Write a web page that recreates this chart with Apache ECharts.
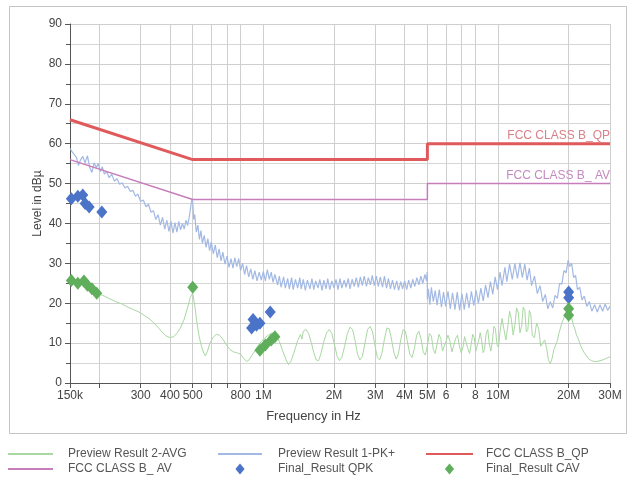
<!DOCTYPE html>
<html>
<head>
<meta charset="utf-8">
<title>EMI scan</title>
<script src="https://cdn.jsdelivr.net/npm/echarts/dist/echarts.min.js"></script>
<style>
  html, body { margin: 0; padding: 0; background: #fff; }
  #main { width: 627px; height: 484px; }
</style>
</head>
<body>
<div id="main"></div>
<script>
// frequencies in MHz, levels in dBuV
var tickFreqs = [0.15, 0.2, 0.3, 0.4, 0.5, 0.6, 0.7, 0.8, 1, 2, 3, 4, 5, 6, 7, 8, 10, 20, 30];
var labelFreqs = [0.15, 0.3, 0.4, 0.5, 0.8, 1, 2, 3, 4, 5, 6, 8, 10, 20, 30];
var labelTexts = ['150k', '300', '400', '500', '800', '1M', '2M', '3M', '4M', '5M', '6', '8', '10M', '20M', '30M'];

var qpLimit = [[0.15, 66], [0.5, 56], [5, 56], [5, 60], [30, 60]];
var avLimit = [[0.15, 56], [0.5, 46], [5, 46], [5, 50], [30, 50]];

var pkTrace = [
  [0.150, 58.8], [0.153, 58.0], [0.156, 58.5], [0.160, 56.5], [0.163, 54.5], [0.166, 55.8], [0.170, 56.8], [0.174, 55.2],
  [0.178, 57.0], [0.182, 54.0], [0.186, 52.8], [0.190, 55.2], [0.194, 54.0], [0.198, 55.0], [0.202, 53.0], [0.206, 54.2],
  [0.210, 52.4], [0.215, 53.0], [0.220, 51.5], [0.226, 52.3], [0.232, 50.6], [0.238, 51.2], [0.244, 49.8], [0.250, 50.2],
  [0.257, 48.9], [0.264, 49.3], [0.271, 48.0], [0.278, 48.3], [0.285, 46.8], [0.292, 47.4], [0.300, 45.5], [0.308, 45.9],
  [0.316, 44.2], [0.324, 44.8], [0.332, 42.8], [0.340, 43.2], [0.348, 41.0], [0.356, 42.2], [0.364, 39.6], [0.372, 41.5],
  [0.380, 38.6], [0.388, 40.8], [0.396, 38.0], [0.404, 40.6], [0.412, 37.6], [0.420, 40.2], [0.428, 37.8], [0.436, 40.5],
  [0.444, 38.4], [0.452, 40.0], [0.460, 38.6], [0.468, 40.8], [0.476, 39.5], [0.484, 41.8], [0.490, 44.0], [0.496, 46.2],
  [0.500, 45.5], [0.505, 41.0], [0.510, 42.2], [0.518, 37.8], [0.526, 39.6], [0.534, 36.0], [0.542, 38.2], [0.550, 35.0],
  [0.560, 37.0], [0.570, 34.0], [0.580, 36.2], [0.590, 33.2], [0.600, 35.4], [0.612, 32.4], [0.624, 34.6], [0.636, 31.4],
  [0.648, 33.6], [0.660, 30.6], [0.672, 32.8], [0.686, 29.8], [0.700, 31.8], [0.714, 29.0], [0.728, 31.2], [0.742, 28.8],
  [0.756, 31.4], [0.770, 29.2], [0.785, 31.2], [0.800, 28.2], [0.816, 30.0], [0.832, 27.2], [0.848, 29.4], [0.866, 26.6],
  [0.884, 28.6], [0.902, 26.0], [0.920, 28.2], [0.940, 25.6], [0.960, 27.8], [0.980, 25.8],
  [1.00, 28.0], [1.02, 25.6], [1.04, 28.4], [1.06, 26.0], [1.08, 27.8], [1.10, 25.2], [1.12, 27.2], [1.15, 24.6],
  [1.17, 26.8], [1.19, 24.0], [1.22, 26.6], [1.24, 23.8], [1.27, 26.2], [1.29, 23.6], [1.32, 26.4], [1.34, 23.4],
  [1.37, 26.0], [1.40, 23.8], [1.43, 26.4], [1.45, 23.6], [1.48, 26.0], [1.51, 23.2], [1.54, 25.8], [1.58, 23.6],
  [1.61, 26.2], [1.64, 23.4], [1.67, 25.6], [1.71, 23.8], [1.74, 26.0], [1.78, 23.2], [1.81, 25.8], [1.85, 23.6],
  [1.88, 26.2], [1.92, 23.4], [1.96, 25.6], [2.00, 23.8], [2.04, 26.0], [2.08, 23.4], [2.12, 26.2], [2.16, 23.8],
  [2.21, 25.8], [2.25, 24.0], [2.30, 26.2], [2.34, 23.6], [2.39, 26.0], [2.44, 24.2], [2.49, 26.4], [2.54, 24.0],
  [2.59, 26.6], [2.64, 24.4], [2.69, 26.8], [2.75, 24.2], [2.80, 26.4], [2.86, 24.6], [2.91, 27.0], [2.97, 24.4],
  [3.03, 26.8], [3.09, 24.2], [3.15, 26.6], [3.22, 24.0], [3.28, 26.8], [3.35, 23.8], [3.41, 26.2], [3.48, 23.6],
  [3.55, 25.8], [3.62, 23.4], [3.70, 25.6], [3.77, 23.2], [3.85, 25.4], [3.92, 23.6], [4.00, 25.6], [4.08, 23.4],
  [4.16, 25.8], [4.25, 23.8], [4.33, 26.0], [4.42, 24.2], [4.51, 26.4], [4.60, 24.6], [4.69, 26.8], [4.78, 25.0],
  [4.88, 27.2], [4.96, 25.6], [4.99, 27.8],
  [5.00, 21.0], [5.05, 23.6], [5.12, 19.6], [5.20, 24.0],
  [5.30, 20.4], [5.40, 23.2], [5.50, 19.5], [5.62, 23.4], [5.74, 19.0], [5.86, 22.8], [5.98, 19.2], [6.12, 23.0],
  [6.26, 18.6], [6.40, 22.6], [6.55, 18.4], [6.70, 22.8], [6.86, 18.2], [7.02, 22.4], [7.18, 18.4], [7.35, 22.6],
  [7.52, 18.8], [7.70, 23.0], [7.88, 19.4], [8.06, 23.2], [8.25, 20.0], [8.45, 23.8], [8.65, 20.6], [8.85, 24.6],
  [9.06, 21.4], [9.28, 25.4], [9.50, 22.2], [9.72, 26.6], [9.95, 23.4], [10.2, 27.8], [10.4, 24.4], [10.7, 29.0],
  [10.9, 25.4], [11.2, 29.8], [11.5, 26.0], [11.8, 30.0], [12.1, 26.2], [12.4, 30.2], [12.7, 26.4], [13.0, 29.8],
  [13.3, 25.8], [13.6, 28.8], [13.9, 24.4], [14.3, 26.8], [14.7, 22.4], [15.1, 24.4], [15.5, 20.4], [15.9, 22.2],
  [16.3, 18.6], [16.7, 20.4], [17.1, 18.8], [17.5, 22.0], [17.9, 21.2], [18.3, 25.0], [18.7, 24.8], [19.1, 28.2],
  [19.5, 27.6], [19.9, 30.8], [20.2, 29.2], [20.6, 30.0], [21.0, 26.4], [21.4, 27.0], [21.8, 23.4], [22.3, 24.0],
  [22.8, 20.8], [23.3, 21.8], [23.9, 19.2], [24.5, 20.4], [25.1, 18.0], [25.8, 19.6], [26.5, 17.8], [27.2, 19.6],
  [27.9, 18.0], [28.6, 19.8], [29.3, 18.2], [30.0, 19.2]
];

var avgTrace = [
  [0.150, 25.8], [0.155, 25.4], [0.160, 25.0], [0.165, 25.3], [0.170, 25.6], [0.175, 25.0], [0.180, 24.6], [0.185, 24.2],
  [0.190, 23.6], [0.195, 22.8], [0.200, 22.3], [0.210, 21.8], [0.220, 21.2], [0.235, 20.4], [0.250, 19.8], [0.265, 19.0],
  [0.280, 18.4], [0.295, 17.8], [0.310, 17.0], [0.325, 16.2], [0.340, 15.2], [0.355, 14.0], [0.370, 12.8], [0.385, 11.8],
  [0.400, 11.4], [0.415, 11.6], [0.430, 12.6], [0.445, 14.0], [0.460, 16.0], [0.475, 18.8], [0.488, 21.4], [0.500, 22.6],
  [0.510, 19.5], [0.520, 15.5], [0.532, 11.8], [0.545, 9.2], [0.558, 7.4], [0.566, 6.8], [0.578, 8.0], [0.592, 10.0],
  [0.610, 11.4], [0.630, 12.2], [0.650, 12.0], [0.672, 11.0], [0.695, 9.6], [0.720, 8.4], [0.745, 7.8], [0.770, 7.6],
  [0.800, 7.2], [0.825, 6.2], [0.848, 5.4], [0.870, 5.8], [0.895, 7.0], [0.920, 8.0], [0.950, 9.4], [0.980, 10.4],
  [1.01, 11.2], [1.05, 12.0], [1.09, 12.6], [1.13, 12.2], [1.17, 10.4], [1.21, 8.0], [1.25, 5.8], [1.28, 4.6],
  [1.31, 5.4], [1.35, 7.6], [1.40, 10.6], [1.44, 12.2], [1.46, 11.0], [1.48, 13.0], [1.52, 13.4], [1.56, 12.4],
  [1.60, 10.2], [1.64, 7.6], [1.68, 5.8], [1.72, 5.6], [1.76, 7.4], [1.81, 10.4], [1.86, 12.6], [1.91, 13.4],
  [1.96, 12.4], [2.01, 9.6], [2.06, 6.8], [2.11, 5.6], [2.16, 6.4], [2.22, 9.2], [2.28, 12.4], [2.34, 14.0],
  [2.40, 13.4], [2.46, 10.6], [2.52, 7.2], [2.58, 5.8], [2.64, 6.6], [2.71, 10.0], [2.78, 13.4], [2.85, 14.2],
  [2.92, 12.8], [2.99, 9.4], [3.06, 6.4], [3.13, 5.8], [3.20, 7.4], [3.28, 11.0], [3.36, 13.8], [3.44, 13.6],
  [3.52, 10.8], [3.60, 7.6], [3.68, 6.0], [3.76, 7.2], [3.85, 10.8], [3.94, 13.4], [4.03, 13.0], [4.12, 10.0],
  [4.21, 7.2], [4.30, 6.4], [4.40, 8.6], [4.50, 12.0], [4.60, 13.0], [4.70, 11.0], [4.80, 7.8], [4.90, 7.0],
  [5.00, 9.4], [5.10, 12.4], [5.20, 11.8], [5.30, 8.4], [5.40, 7.4], [5.50, 9.8], [5.60, 12.2], [5.70, 11.2],
  [5.80, 8.0], [5.90, 7.6], [6.00, 10.4], [6.12, 12.0], [6.24, 10.4], [6.36, 7.8], [6.48, 8.2], [6.60, 11.2],
  [6.72, 12.0], [6.84, 9.4], [6.96, 7.6], [7.08, 8.8], [7.20, 11.6], [7.32, 11.8], [7.44, 8.6], [7.56, 7.4],
  [7.68, 9.6], [7.80, 12.2], [7.92, 11.4], [8.04, 8.0], [8.16, 7.6], [8.28, 10.8], [8.40, 12.6], [8.52, 10.6],
  [8.64, 7.6], [8.76, 8.4], [8.90, 12.4], [9.04, 13.4], [9.18, 9.8], [9.32, 8.0], [9.46, 10.4], [9.60, 14.2],
  [9.75, 13.6], [9.90, 9.6], [10.05, 9.0], [10.2, 13.0], [10.4, 16.2], [10.6, 13.4], [10.8, 10.8], [11.0, 14.0],
  [11.2, 18.0], [11.4, 16.0], [11.6, 12.0], [11.8, 14.6], [12.0, 18.8], [12.2, 17.6], [12.4, 12.6], [12.6, 14.2],
  [12.8, 19.0], [13.0, 18.2], [13.2, 12.8], [13.4, 13.4], [13.6, 18.2], [13.8, 17.0], [14.0, 11.8], [14.3, 11.4],
  [14.6, 15.0], [14.9, 13.6], [15.2, 9.2], [15.5, 9.0], [15.8, 10.8], [16.1, 8.8], [16.4, 5.8], [16.7, 4.8],
  [17.0, 6.2], [17.3, 8.4], [17.6, 8.2], [17.9, 10.6], [18.2, 12.6], [18.5, 13.0], [18.8, 15.4], [19.1, 16.4],
  [19.4, 16.8], [19.7, 18.4], [20.0, 18.6], [20.3, 17.0], [20.6, 16.4], [20.9, 14.6], [21.2, 13.8], [21.6, 12.0],
  [22.0, 11.0], [22.4, 9.6], [22.8, 8.6], [23.3, 7.6], [23.8, 6.8], [24.4, 6.0], [25.0, 5.6], [25.7, 5.4],
  [26.4, 5.4], [27.2, 5.6], [28.0, 5.8], [29.0, 6.2], [30.0, 6.6]
];

var qpkFinal = [
  [0.152, 46.2], [0.162, 46.8], [0.170, 47.1], [0.174, 45.0], [0.181, 44.1], [0.205, 42.9],
  [0.891, 13.8], [0.904, 15.9], [0.935, 14.5], [0.967, 15.0], [1.07, 17.8],
  [20.0, 22.8], [20.0, 21.4]
];

var cavFinal = [
  [0.152, 25.7], [0.162, 25.0], [0.172, 25.6], [0.178, 24.5], [0.186, 23.6], [0.195, 22.5],
  [0.500, 24.0],
  [0.967, 8.2], [1.02, 9.5], [1.08, 10.8], [1.12, 11.6],
  [20.0, 18.6], [20.0, 17.0]
];

function lg(f) { return Math.log10(f); }
function toXY(arr) { return arr.map(function (p) { return [lg(p[0]), p[1]]; }); }
function withEndLabel(arr, text, color) {
  var d = toXY(arr);
  var i = d.length - 1;
  d[i] = {
    value: d[i], symbol: 'circle', symbolSize: 0,
    label: { show: true, formatter: text, position: 'top', align: 'right', distance: 2, color: color, fontSize: 12, fontFamily: 'Liberation Sans' }
  };
  return d;
}

var font = 'Liberation Sans';
var myChart = echarts.init(document.getElementById('main'));
var lineLegendStyle = { opacity: 0 };
// diamond icon for legend, path keeps its aspect ratio
var diamondIcon = 'path://M5,0L10,6L5,12L0,6Z';

var option = {
  animation: false,
  backgroundColor: '#fff',
  textStyle: { fontFamily: font },
  title: {
    text: 'Frequency in Hz', left: 'center', top: 405,
    textStyle: { fontSize: 13, fontWeight: 'normal', color: '#444', fontFamily: font }
  },
  graphic: [{
    type: 'rect', left: 7, top: 4, silent: true,
    shape: { width: 617, height: 427 },
    style: { fill: 'none', stroke: '#c4c4c4', lineWidth: 1 }
  }],
  legend: [
    {
      left: 7, top: 448, orient: 'vertical', padding: 0, itemGap: 3, itemWidth: 45, itemHeight: 11,
      symbolKeepAspect: true,
      textStyle: { fontSize: 12, color: '#555', fontFamily: font, padding: [0, 0, 0, 10] },
      data: [{ name: 'Preview Result 2-AVG', itemStyle: lineLegendStyle }, { name: 'FCC CLASS B_ AV', itemStyle: lineLegendStyle }]
    },
    {
      left: 217, top: 448, orient: 'vertical', padding: 0, itemGap: 3, itemWidth: 44, itemHeight: 11,
      symbolKeepAspect: true,
      textStyle: { fontSize: 12, color: '#555', fontFamily: font, padding: [0, 0, 0, 11] },
      data: [{ name: 'Preview Result 1-PK+', itemStyle: lineLegendStyle }, { name: 'Final_Result QPK', icon: diamondIcon }]
    },
    {
      left: 425, top: 448, orient: 'vertical', padding: 0, itemGap: 3, itemWidth: 47, itemHeight: 11,
      symbolKeepAspect: true,
      textStyle: { fontSize: 12, color: '#555', fontFamily: font, padding: [0, 0, 0, 8] },
      data: [{ name: 'FCC CLASS B_QP', itemStyle: lineLegendStyle }, { name: 'Final_Result CAV', icon: diamondIcon }]
    }
  ],
  grid: { left: 70, right: 17, top: 24, bottom: 101 },
  xAxis: {
    type: 'value',
    min: lg(0.15),
    max: lg(30),
    axisLine: { lineStyle: { color: '#555' } },
    axisTick: { length: 5, lineStyle: { color: '#555' }, customValues: tickFreqs.map(lg) },
    axisLabel: {
      customValues: labelFreqs.map(lg),
      color: '#444', fontSize: 12, margin: 7, fontFamily: font,
      formatter: function (v) {
        for (var i = 0; i < labelFreqs.length; i++) {
          if (Math.abs(lg(labelFreqs[i]) - v) < 1e-6) return labelTexts[i];
        }
        return '';
      }
    },
    splitLine: { show: true, lineStyle: { color: '#cfcfcf', width: 1 } }
  },
  yAxis: {
    type: 'value',
    min: 0, max: 90, interval: 10,
    name: 'Level in dBµ',
    nameLocation: 'middle',
    nameGap: 26,
    nameMoveOverlap: false,
    nameTextStyle: { fontSize: 12, color: '#444', fontFamily: font },
    axisLine: { show: true, onZero: false, lineStyle: { color: '#555' } },
    axisTick: { show: true, length: 5, lineStyle: { color: '#555' } },
    minorTick: { show: true, splitNumber: 2, length: 4, lineStyle: { color: '#555' } },
    axisLabel: { color: '#444', fontSize: 12, margin: 8, fontFamily: font },
    splitLine: { show: true, lineStyle: { color: '#cfcfcf', width: 1 } },
    minorSplitLine: { show: true, lineStyle: { color: '#d6d6d6', width: 1 } }
  },
  series: [
    {
      name: 'Preview Result 2-AVG', type: 'line', symbol: 'none', z: 2,
      lineStyle: { color: '#a9d8a2', width: 1 }, itemStyle: { color: '#a9d8a2' },
      data: toXY(avgTrace)
    },
    {
      name: 'Preview Result 1-PK+', type: 'line', symbol: 'none', z: 2,
      lineStyle: { color: '#a3b9e4', width: 1.2 }, itemStyle: { color: '#a3b9e4' },
      data: toXY(pkTrace)
    },
    {
      name: 'FCC CLASS B_QP', type: 'line', symbol: 'none', z: 3,
      lineStyle: { color: '#e05a5c', width: 3 }, itemStyle: { color: '#e05a5c' },
      data: withEndLabel(qpLimit, 'FCC CLASS B_QP', '#d98088')
    },
    {
      name: 'FCC CLASS B_ AV', type: 'line', symbol: 'none', z: 3,
      lineStyle: { color: '#c77cbc', width: 1.5 }, itemStyle: { color: '#c77cbc' },
      data: withEndLabel(avLimit, 'FCC CLASS B_ AV', '#c58abf')
    },
    {
      name: 'Final_Result QPK', type: 'scatter', symbol: 'diamond', symbolSize: [11, 13], z: 5,
      itemStyle: { color: '#4b73c8', opacity: 1 },
      data: toXY(qpkFinal)
    },
    {
      name: 'Final_Result CAV', type: 'scatter', symbol: 'diamond', symbolSize: [11, 13], z: 5,
      itemStyle: { color: '#5fae5b', opacity: 1 },
      data: toXY(cavFinal)
    }
  ]
};

myChart.setOption(option);
</script>
</body>
</html>
